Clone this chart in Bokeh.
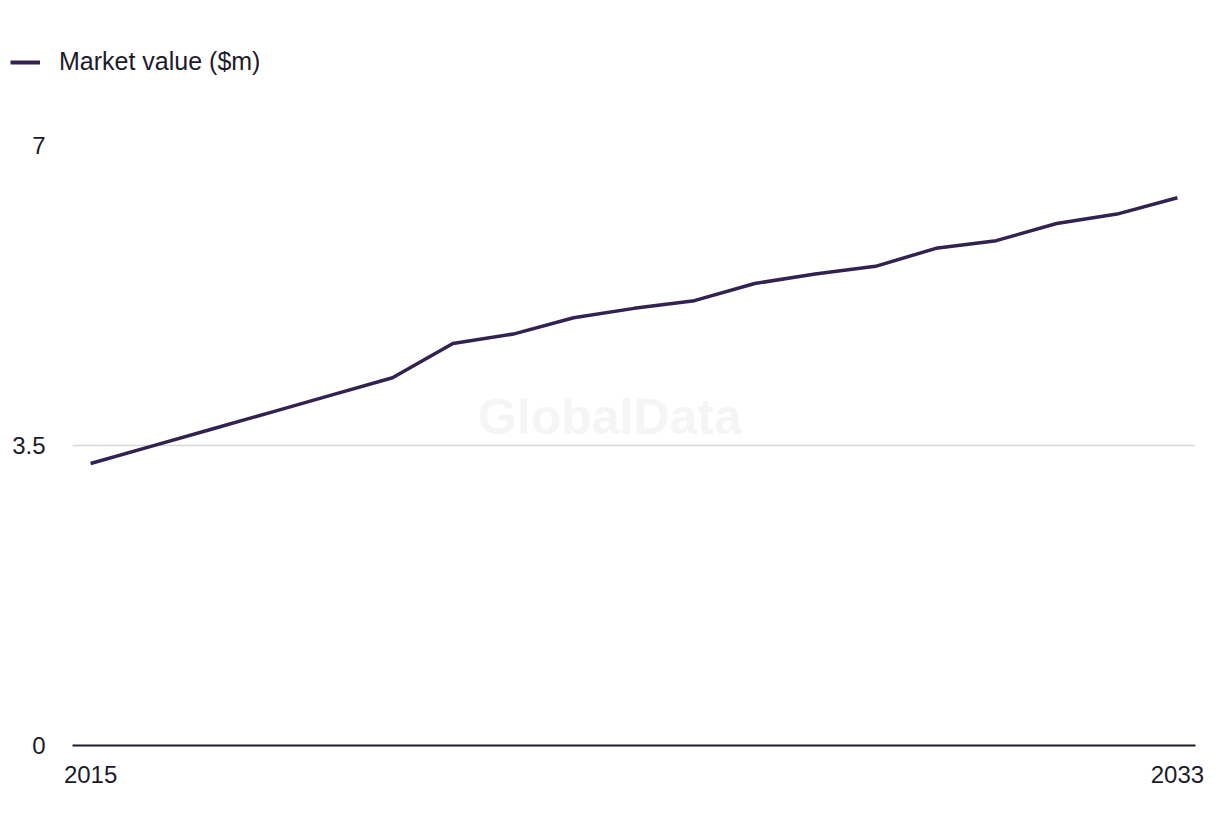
from bokeh.plotting import figure
from bokeh.layouts import column
from bokeh.models import ColumnDataSource, Range1d, FixedTicker, Legend, LegendItem, Label
from bokeh.embed import file_html
from bokeh.resources import INLINE

years = [2015, 2016, 2017, 2018, 2019, 2020, 2021, 2022, 2023, 2024,
         2025, 2026, 2027, 2028, 2029, 2030, 2031, 2032, 2033]
market_value = [3.29, 3.49, 3.69, 3.89, 4.09, 4.29, 4.69, 4.80, 4.99, 5.10,
                5.19, 5.39, 5.50, 5.59, 5.80, 5.89, 6.09, 6.20, 6.39]
series_name = "Market value ($m)"
x_ticks = [2015, 2033]
y_ticks = [0, 3.5, 7]
y_tick_labels = ["0", "3.5", "7"]

FONT = "Liberation Sans"
TEXT = "#1c1b2b"
LINE = "#33214f"
W = 1204
TOP_H = 100

src = ColumnDataSource(dict(year=years, value=market_value))

# ---- legend strip (top); its frame is not aligned with the chart below ----
lg = figure(width=W, height=TOP_H, output_backend="svg", toolbar_location=None,
            x_range=Range1d(0, 1), y_range=Range1d(0, 1),
            min_border=0, x_axis_location=None, y_axis_location=None)
lg.frame_align = False
lg.outline_line_color = None
lg.grid.visible = False
# the same series, outside this strip's visible range: only its legend key shows
key = lg.line("year", "value", source=src, line_color=LINE, line_width=4)
legend = Legend(items=[LegendItem(label=series_name, renderers=[key])],
                location=(10, TOP_H - 76), orientation="horizontal",
                glyph_width=30, glyph_height=26, label_standoff=19,
                padding=0, margin=0, border_line_color=None,
                background_fill_alpha=0,
                label_text_font=FONT, label_text_font_size="25px",
                label_text_color=TEXT, label_height=26)
lg.add_layout(legend)

# ---- main chart ----
p = figure(width=W, height=820 - TOP_H, output_backend="svg", toolbar_location=None,
           x_range=Range1d(2014.7, 2033.3), y_range=Range1d(0, 7),
           min_border_left=72, min_border_right=9, min_border_top=145 - TOP_H,
           min_border_bottom=75)
p.frame_align = False
p.outline_line_color = None

wm = Label(x=2023.6, y=3.83, text="GlobalData", text_font=FONT,
           text_font_size="50px", text_font_style="bold", text_color="#f5f5f5",
           text_align="center", text_baseline="alphabetic")
p.add_layout(wm)

p.line("year", "value", source=src, line_color=LINE, line_width=3.5)

p.xaxis.ticker = FixedTicker(ticks=x_ticks)
p.yaxis.ticker = FixedTicker(ticks=y_ticks)
p.yaxis.major_label_overrides = {t: l for t, l in zip(y_ticks, y_tick_labels)}

for ax in (p.xaxis[0], p.yaxis[0]):
    ax.major_tick_line_color = None
    ax.minor_tick_line_color = None
    ax.major_label_text_font = FONT
    ax.major_label_text_font_size = "24px"
    ax.major_label_text_color = TEXT
p.xaxis.axis_line_color = TEXT
p.xaxis.axis_line_width = 2
p.xaxis.major_label_standoff = 14
p.yaxis.axis_line_color = None
p.yaxis.major_label_standoff = 21

p.xgrid.grid_line_color = None
p.ygrid.grid_line_color = "#d6d6d6"
p.ygrid.grid_line_width = 1.5

layout = column(lg, p, spacing=0)
open("out.html", "w").write(file_html(layout, INLINE))
